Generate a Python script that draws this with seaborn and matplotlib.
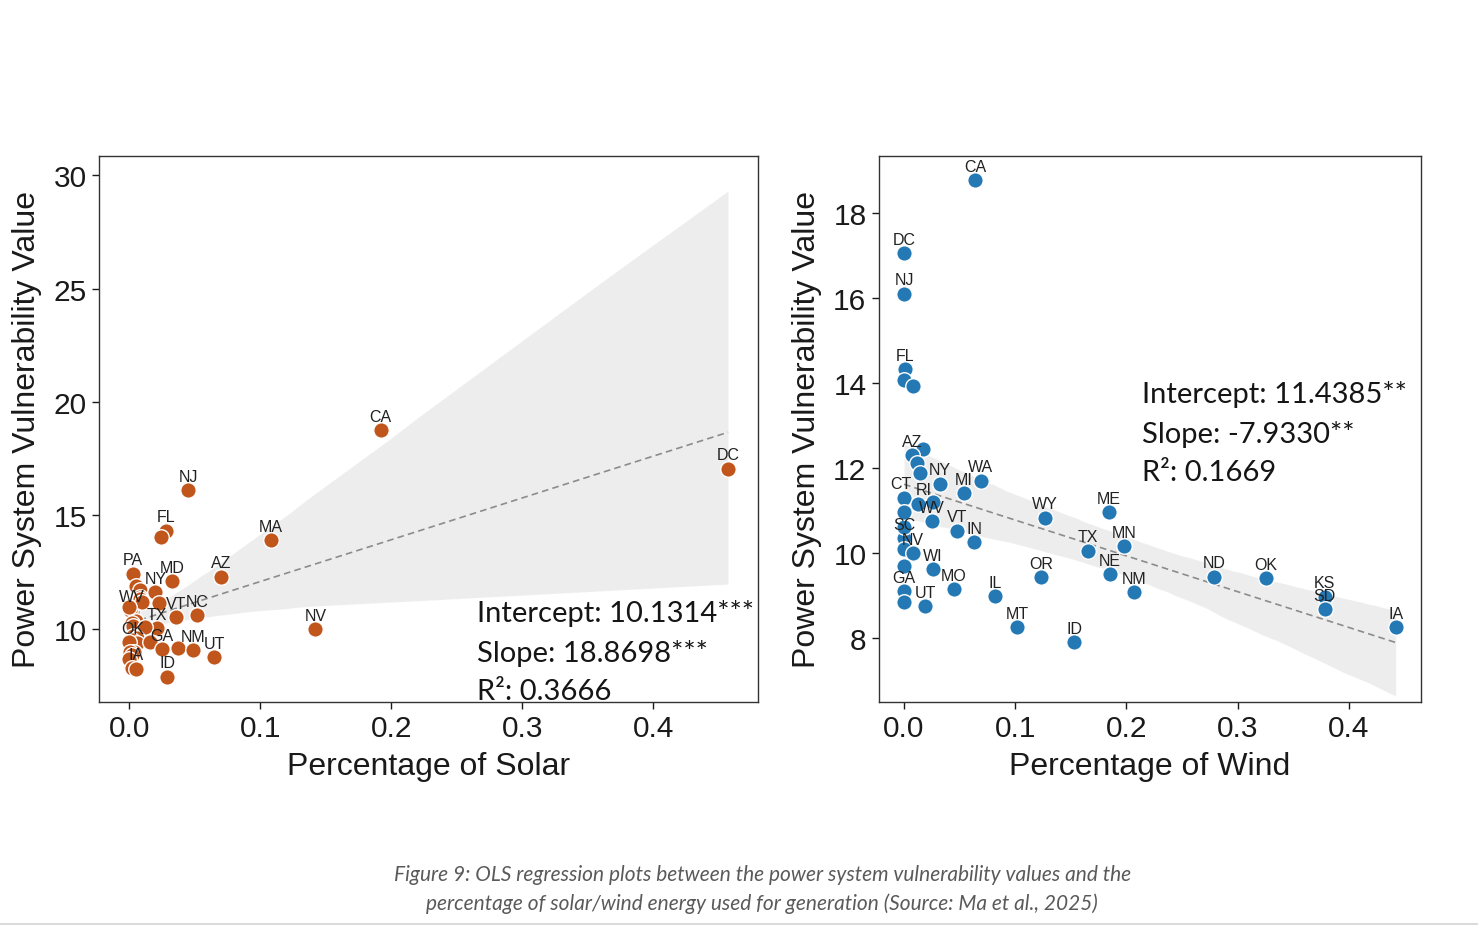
import matplotlib
matplotlib.use("Agg")
import matplotlib.pyplot as plt
from matplotlib.lines import Line2D
import numpy as np
import pandas as pd
import seaborn as sns

# State-level power system vulnerability and generation shares
states = ["CA", "DC", "NJ", "FL", "DE", "MA", "PA", "AZ", "MD", "OH",
          "WA", "NY", "MI", "CT", "RI", "WV", "ME", "WY", "SC", "VT",
          "NC", "IN", "TX", "MN", "VA", "NV", "TN", "WI", "NE", "OK",
          "OR", "ND", "MO", "GA", "NM", "IL", "KS", "AL", "UT", "SD",
          "MT", "IA", "ID", "NH", "LA"]
vulnerability = [18.77, 17.06, 16.10, 14.33, 14.07, 13.92, 12.44, 12.30, 12.12, 11.87,
                 11.70, 11.63, 11.40, 11.30, 11.16, 10.75, 10.95, 10.83, 10.35, 10.52,
                 10.60, 10.25, 10.05, 10.15, 10.10, 10.00, 9.68, 9.62, 9.50, 9.40,
                 9.42, 9.44, 9.15, 9.10, 9.08, 8.98, 8.97, 8.85, 8.75, 8.68,
                 8.26, 8.25, 7.90, 11.20, 10.97]
solar_share = [0.192, 0.457, 0.045, 0.028, 0.024, 0.108, 0.003, 0.070, 0.033, 0.005,
               0.008, 0.020, 0.008, 0.008, 0.023, 0.002, 0.000, 0.001, 0.005, 0.036,
               0.052, 0.002, 0.021, 0.003, 0.012, 0.142, 0.003, 0.006, 0.002, 0.006,
               0.016, 0.000, 0.037, 0.025, 0.049, 0.004, 0.001, 0.002, 0.065, 0.000,
               0.002, 0.005, 0.029, 0.010, 0.000]
wind_share = [0.064, 0.000, 0.000, 0.001, 0.000, 0.008, 0.017, 0.007, 0.012, 0.014,
              0.069, 0.032, 0.054, 0.000, 0.013, 0.025, 0.184, 0.127, 0.000, 0.048,
              0.000, 0.063, 0.165, 0.198, 0.000, 0.008, 0.000, 0.026, 0.185, 0.325,
              0.123, 0.279, 0.045, 0.000, 0.207, 0.082, 0.378, 0.000, 0.019, 0.378,
              0.102, 0.442, 0.153, 0.026, 0.000]

solar_labeled = ["CA", "DC", "NJ", "FL", "MA", "AZ", "NV", "PA", "MD", "NY",
                 "WV", "VT", "NC", "TX", "OK", "GA", "NM", "UT", "IA", "ID"]
wind_labeled = ["CA", "DC", "NJ", "FL", "AZ", "NY", "MI", "WA", "CT", "RI",
                "WV", "VT", "IN", "SC", "NV", "WI", "GA", "UT", "MO", "IL",
                "MT", "WY", "OR", "TX", "ME", "MN", "NE", "NM", "ID", "ND",
                "OK", "KS", "SD", "IA"]

solar_stats = ["Intercept: 10.1314***", "Slope: 18.8698***", "R²: 0.3666"]
wind_stats = ["Intercept: 11.4385**", "Slope: -7.9330**", "R²: 0.1669"]

caption = ["Figure 9: OLS regression plots between the power system vulnerability values and the",
           "percentage of solar/wind energy used for generation (Source: Ma et al., 2025)"]

df = pd.DataFrame({"state": states, "vuln": vulnerability,
                   "solar": solar_share, "wind": wind_share})

sns.set_theme(style="white")
plt.rcParams["font.family"] = ["Liberation Sans", "DejaVu Sans"]

SOLAR_COLOR = "#C0561B"
WIND_COLOR = "#2479B5"

# small label nudges (points) to keep crowded names apart
nudges = {("wind", "RI"): (4, 0), ("wind", "CT"): (-2, 0),
          ("solar", "OK"): (-3, 0), ("solar", "WV"): (0, 1)}

fig = plt.figure(figsize=(14.78, 9.29), dpi=100)
ax1 = fig.add_axes([0.067, 0.2433, 0.446, 0.5877])
ax2 = fig.add_axes([0.5947, 0.2433, 0.3667, 0.5877])


def panel(ax, xcol, color, labeled, stats, stats_pos, xlabel):
    sns.regplot(data=df, x=xcol, y="vuln", ax=ax, scatter=False, ci=95, seed=0,
                line_kws=dict(color="#8c8c8c", ls=(0, (4, 2.5)), lw=1.2))
    sns.scatterplot(data=df, x=xcol, y="vuln", ax=ax, color=color, s=125,
                    edgecolor="white", linewidth=1.0, zorder=3, legend=False)
    sub = df[df["state"].isin(labeled)]
    for _, r in sub.iterrows():
        dx, dy = nudges.get((xcol, r["state"]), (0, 0))
        ax.annotate(r["state"], (r[xcol], r["vuln"]), xytext=(dx, 4.5 + dy),
                    textcoords="offset points", ha="center", va="bottom",
                    fontsize=11.5, color="#222222", zorder=4)
    x0, ys = stats_pos
    for line, y in zip(stats, ys):
        ax.text(x0, y, line, transform=ax.transAxes, ha="left", va="baseline",
                fontsize=21, family=["Lato", "DejaVu Sans"], fontweight="normal",
                color="#151515", clip_on=False, zorder=5)
    ax.set_xlabel(xlabel, fontsize=23, color="#1a1a1a", labelpad=6)
    ax.set_ylabel("Power System Vulnerability Value", fontsize=23,
                  color="#1a1a1a", labelpad=8)
    ax.set_xticks([0.0, 0.1, 0.2, 0.3, 0.4])
    ax.set_xticklabels(["0.0", "0.1", "0.2", "0.3", "0.4"])
    ax.tick_params(axis="both", labelsize=21.5, colors="#1a1a1a", length=5,
                   width=1, direction="out", bottom=True, left=True, pad=4)
    for sp in ax.spines.values():
        sp.set_color("#333333")
        sp.set_linewidth(1.0)


panel(ax1, "solar", SOLAR_COLOR, solar_labeled, solar_stats,
      (0.5736, [0.148, 0.075, 0.0055]), "Percentage of Solar")
ax1.set_xlim(-0.023, 0.480)
ax1.set_ylim(6.78, 30.84)
ax1.set_yticks([10, 15, 20, 25, 30])

panel(ax2, "wind", WIND_COLOR, wind_labeled, wind_stats,
      (0.4852, [0.5486, 0.477, 0.407]), "Percentage of Wind")
ax2.set_xlim(-0.0225, 0.4647)
ax2.set_ylim(6.49, 19.34)
ax2.set_yticks([8, 10, 12, 14, 16, 18])

for i, line in enumerate(caption):
    fig.text(0.5157, 1 - (875 + 29 * i) / 929, line, ha="center", va="center",
             fontsize=15, style="italic", color="#5a5a5a",
             family=["Lato", "DejaVu Sans"])

fig.add_artist(Line2D([0, 1], [0.9995, 0.9995], color="#d4d4d4", lw=1.2,
                      transform=fig.transFigure))
fig.add_artist(Line2D([0, 1], [0.0043, 0.0043], color="#d4d4d4", lw=1.2,
                      transform=fig.transFigure))

fig.savefig("out.png", dpi=100, facecolor="white")
